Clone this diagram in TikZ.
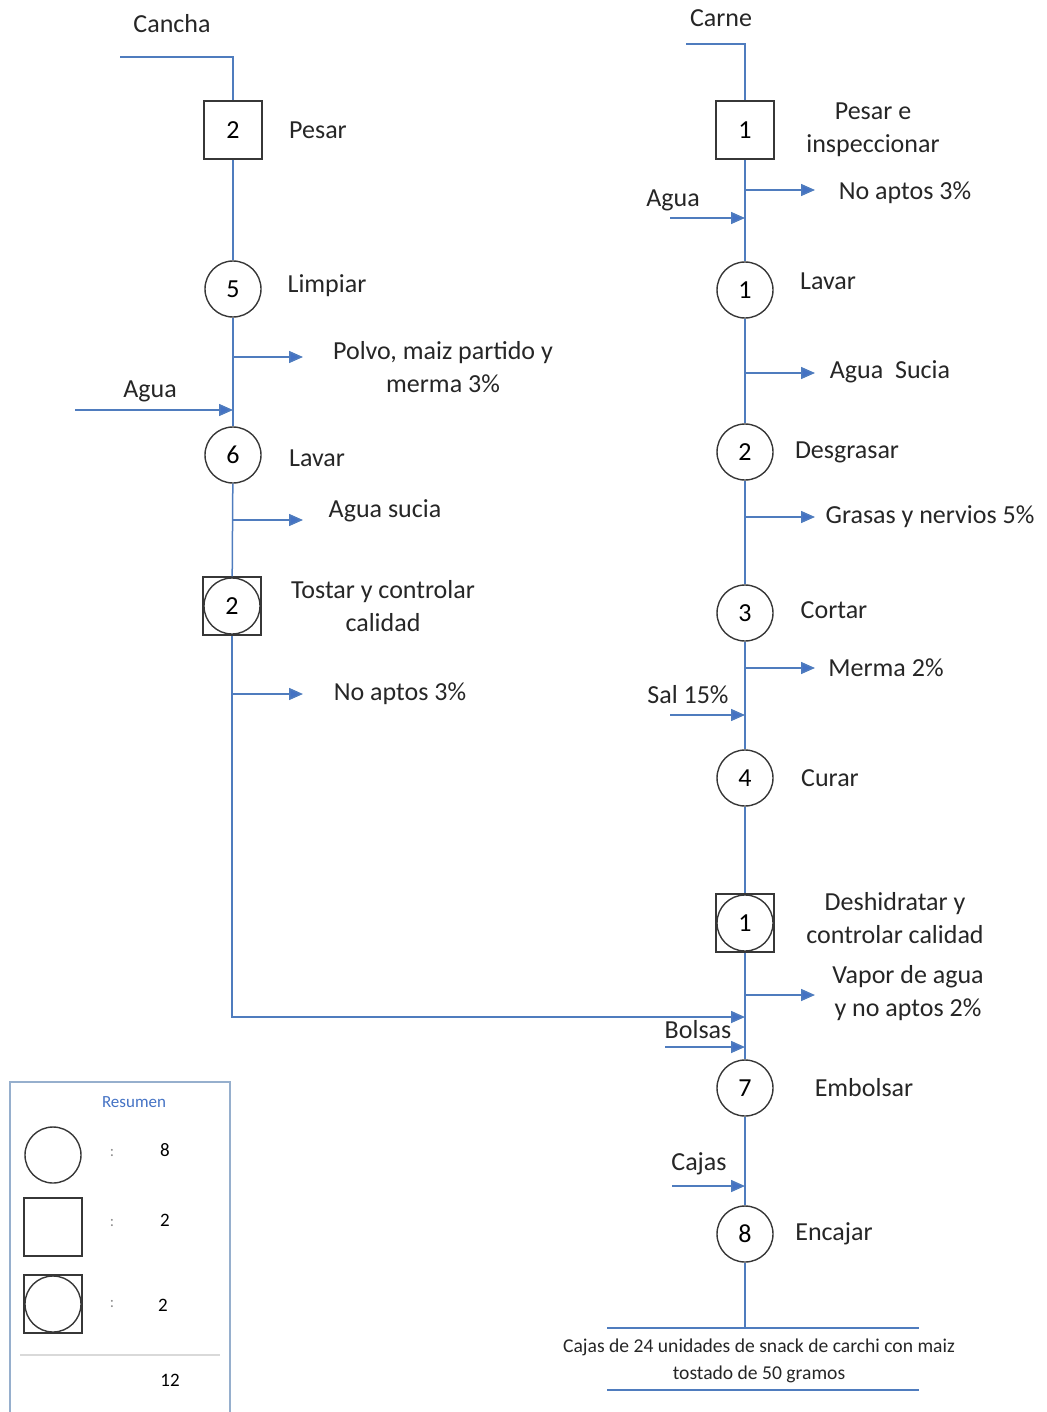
\documentclass[tikz,border=0pt]{standalone}
\usepackage{fontspec}
\setmainfont{Carlito}
\usepackage{xcolor}
\usetikzlibrary{arrows.meta,positioning}
\definecolor{flowblue}{RGB}{79,124,190}
\definecolor{tipblue}{RGB}{68,114,196}
\definecolor{shapegray}{RGB}{55,55,55}
\definecolor{legendedge}{RGB}{150,175,205}

\begin{document}
\begin{tikzpicture}[x=0.5pt, y=-0.5pt, >={Triangle[length=7pt,width=6pt]},
    font=\fontsize{13}{16.5}\selectfont,
    op/.style={circle, draw=shapegray, line width=0.7pt, minimum size=28pt, inner sep=0pt},
    insp/.style={rectangle, draw=shapegray, line width=0.7pt, minimum size=29pt, inner sep=0pt},
    combo/.style={rectangle, draw=shapegray, line width=0.7pt, minimum size=29pt, inner sep=0pt,
      path picture={\draw[shapegray, line width=0.7pt] (path picture bounding box.center) circle[radius=14pt];}},
    flow/.style={draw=flowblue, line width=0.75pt},
    branch/.style={flow, -{Triangle[length=7pt,width=6pt,fill=tipblue]}},
    lbl/.style={align=center, text=black!85, inner sep=1pt}]

  \useasboundingbox (0,0) rectangle (1047,1412);

  % ---- Cancha line
  \node[lbl] (cancha) at (172,24) {Cancha};
  \coordinate (canchaIn) at (120,57);
  \coordinate (canchaTurn) at (233,57);
  \node[insp] (pesarL) at (233,130) {2};
  \node[lbl] at (318,130) {Pesar};
  \node[op] (limpiarL) at (233,289) {5};
  \node[lbl] at (327,286) {Limpiar};
  \node[op] (lavarL) at (233,455) {6};
  \node[lbl] at (317,458) {Lavar};
  \node[combo] (tostarL) at (232,606) {2};
  \node[lbl] at (383,606) {Tostar y controlar\\calidad};

  \draw[flow] (canchaIn) -- (canchaTurn) -- (pesarL);
  \draw[flow] (pesarL) -- (limpiarL);
  \draw[flow] (limpiarL) -- (lavarL);
  \draw[flow] (lavarL) -- (tostarL);

  \coordinate (polvoA) at (233,357);
  \coordinate (polvoB) at (303,357);
  \draw[branch] (polvoA) -- (polvoB);
  \node[lbl] at (443,367) {Polvo, maiz partido y\\merma 3\%};

  \coordinate (aguaLA) at (75,410);
  \coordinate (aguaLB) at (233,410);
  \draw[branch] (aguaLA) -- (aguaLB);
  \node[lbl] at (150,391) {Agua};

  \coordinate (suciaLA) at (233,520);
  \coordinate (suciaLB) at (303,520);
  \draw[branch] (suciaLA) -- (suciaLB);
  \node[lbl] at (385,511) {Agua sucia};

  \coordinate (noaptLA) at (233,694);
  \coordinate (noaptLB) at (303,694);
  \draw[branch] (noaptLA) -- (noaptLB);
  \node[lbl] at (400,694) {No aptos 3\%};

  % ---- Carne line
  \node[lbl] (carne) at (721,18) {Carne};
  \coordinate (carneIn) at (686,44);
  \coordinate (carneTurn) at (745,44);
  \node[insp] (pesarR) at (745,130) {1};
  \node[lbl] at (873,130) {Pesar e\\inspeccionar};
  \node[op] (lavarR) at (745,290) {1};
  \node[lbl] at (828,281) {Lavar};
  \node[op] (desgrasar) at (745,452) {2};
  \node[lbl] at (847,452) {Desgrasar};
  \node[op] (cortar) at (745,613) {3};
  \node[lbl] at (834,610) {Cortar};
  \node[op] (curar) at (745,778) {4};
  \node[lbl] at (830,778) {Curar};
  \node[combo] (deshidratar) at (745,923) {1};
  \node[lbl] at (895,918) {Deshidratar y\\controlar calidad};
  \node[op] (embolsar) at (745,1088) {7};
  \node[lbl] at (864,1088) {Embolsar};
  \node[op] (encajar) at (745,1234) {8};
  \node[lbl] at (834,1234) {Encajar};
  \coordinate (prodTop) at (745,1328);

  \draw[flow] (carneIn) -- (carneTurn) -- (pesarR);
  \draw[flow] (pesarR) -- (lavarR);
  \draw[flow] (lavarR) -- (desgrasar);
  \draw[flow] (desgrasar) -- (cortar);
  \draw[flow] (cortar) -- (curar);
  \draw[flow] (curar) -- (deshidratar);
  \draw[flow] (deshidratar) -- (embolsar);
  \draw[flow] (embolsar) -- (encajar);
  \draw[flow] (encajar) -- (prodTop);

  \coordinate (noaptRA) at (745,190);
  \coordinate (noaptRB) at (815,190);
  \draw[branch] (noaptRA) -- (noaptRB);
  \node[lbl] at (905,193) {No aptos 3\%};

  \coordinate (aguaRA) at (670,218);
  \coordinate (aguaRB) at (745,218);
  \draw[branch] (aguaRA) -- (aguaRB);
  \node[lbl] at (673,200) {Agua};

  \coordinate (suciaRA) at (745,373);
  \coordinate (suciaRB) at (815,373);
  \draw[branch] (suciaRA) -- (suciaRB);
  \node[lbl] at (890,372) {Agua\ \ Sucia};

  \coordinate (grasaA) at (745,517);
  \coordinate (grasaB) at (815,517);
  \draw[branch] (grasaA) -- (grasaB);
  \node[lbl] at (930,517) {Grasas y nervios 5\%};

  \coordinate (mermaA) at (745,668);
  \coordinate (mermaB) at (815,668);
  \draw[branch] (mermaA) -- (mermaB);
  \node[lbl] at (886,668) {Merma 2\%};

  \coordinate (salA) at (670,715);
  \coordinate (salB) at (745,715);
  \draw[branch] (salA) -- (salB);
  \node[lbl] at (688,695) {Sal 15\%};

  \coordinate (vaporA) at (745,995);
  \coordinate (vaporB) at (815,995);
  \draw[branch] (vaporA) -- (vaporB);
  \node[lbl] at (908,993) {Vapor de agua\\y no aptos 2\%};

  \coordinate (merge) at (745,1017);
  \draw[branch] (tostarL) |- (merge);

  \coordinate (bolsasA) at (665,1047);
  \coordinate (bolsasB) at (745,1047);
  \draw[branch] (bolsasA) -- (bolsasB);
  \node[lbl] at (698,1030) {Bolsas};

  \coordinate (cajasA) at (672,1186);
  \coordinate (cajasB) at (745,1186);
  \draw[branch] (cajasA) -- (cajasB);
  \node[lbl] at (699,1164) {Cajas};

  % ---- product
  \coordinate (prodL) at (607,1328);
  \coordinate (prodR) at (919,1328);
  \draw[flow] (prodL) -- (prodR);
  \node[lbl, font=\fontsize{9.8}{13.5}\selectfont] (producto) at (759,1361)
    {Cajas de 24 unidades de snack de carchi con maiz\\tostado de 50 gramos};
  \coordinate (prodBL) at (607,1390);
  \coordinate (prodBR) at (919,1390);
  \draw[flow] (prodBL) -- (prodBR);

  % ---- resumen
  \draw[legendedge, line width=0.75pt] (10,1412) -- (10,1082) -- (230,1082) -- (230,1412);
  \node[text=tipblue, font=\fontsize{8.5}{10}\selectfont] (resumen) at (134,1102) {Resumen};
  \node[op] (legOp) at (53,1155) {};
  \node[insp] (legInsp) at (53,1227) {};
  \node[combo] (legCombo) at (53,1304) {};
  \node[text=black!45, font=\fontsize{8}{9}\selectfont] at (112,1153) {:};
  \node[text=black!45, font=\fontsize{8}{9}\selectfont] at (112,1223) {:};
  \node[text=black!45, font=\fontsize{8}{9}\selectfont] at (112,1304) {:};
  \node[font=\fontsize{9.5}{10}\selectfont] (nOp) at (165,1150) {8};
  \node[font=\fontsize{9.5}{10}\selectfont] (nInsp) at (165,1220) {2};
  \node[font=\fontsize{9.5}{10}\selectfont] (nCombo) at (163,1305) {2};
  \draw[black!15, line width=0.6pt] (20,1355) -- (220,1355);
  \node[font=\fontsize{9.5}{10}\selectfont] (nTotal) at (170,1380) {12};

\end{tikzpicture}
\end{document}
